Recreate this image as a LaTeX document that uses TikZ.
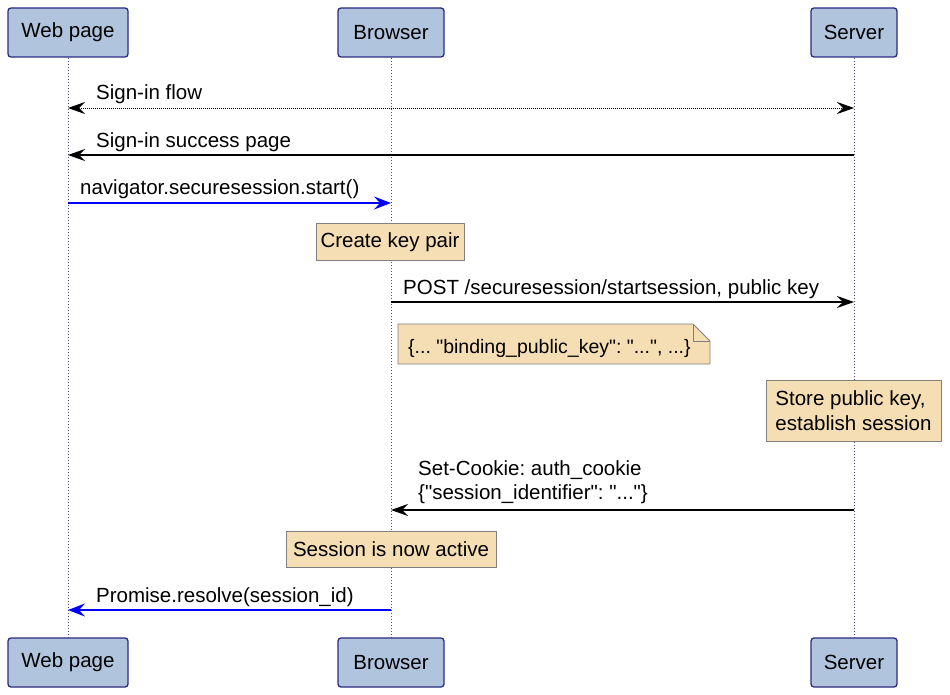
\documentclass[tikz,border=0pt]{standalone}
\usepackage{fontspec}
\setmainfont{Liberation Sans}[Ligatures=TeXOff]
\usetikzlibrary{arrows.meta}
\definecolor{partfill}{HTML}{B0C4DE}
\definecolor{partdraw}{HTML}{2B2B7E}
\definecolor{notefill}{HTML}{F5DEB3}
\definecolor{notedraw}{HTML}{808080}
\definecolor{lifecol}{HTML}{4B4B8C}
\definecolor{msgblue}{HTML}{0000FF}
\frenchspacing
\begin{document}
\begin{tikzpicture}[x=1pt,y=-1pt,
  font=\fontsize{20.5}{24.5}\selectfont\frenchspacing,
  part/.style={draw=partdraw, fill=partfill, line width=1.3pt, rounded corners=3pt,
    minimum height=49pt, inner sep=0pt},
  notebox/.style={draw=notedraw, fill=notefill, line width=0.9pt, inner sep=0pt},
  life/.style={draw=lifecol, line width=0.7pt, dash pattern=on 1.5pt off 1.5pt},
  msg/.style={-{Stealth[length=17pt,width=12pt,inset=6pt]}, line width=1.4pt},
  dmsg/.style={{Stealth[length=17pt,width=12pt,inset=6pt]}-{Stealth[length=17pt,width=12pt,inset=6pt]},
    line width=0.9pt, dash pattern=on 1pt off 1pt, draw=black},
  lbl/.style={anchor=base west, inner sep=0pt}]
\useasboundingbox (0,0) rectangle (950,695);

% participants
\node[part, minimum width=120pt] (webT) at (68,32.5) {Web page};
\node[part, minimum width=106pt] (brT) at (391,32.5) {Browser};
\node[part, minimum width=86pt] (srvT) at (854,32.5) {Server};
\node[part, minimum width=120pt] (webB) at (68,662.5) {Web page};
\node[part, minimum width=106pt] (brB) at (391,662.5) {Browser};
\node[part, minimum width=86pt] (srvB) at (854,662.5) {Server};

% lifelines
\draw[life] (webT) -- (webB);
\draw[life] (brT) -- (brB);
\draw[life] (srvT) -- (srvB);

% message rows
\coordinate (r1) at (0,108);
\coordinate (r2) at (0,155);
\coordinate (r3) at (0,203);
\coordinate (r5) at (0,302);
\coordinate (r8) at (0,510);
\coordinate (r10) at (0,610);

% 1 sign-in flow
\draw[dmsg] (webT |- r1) -- (srvT |- r1);
\node[lbl] (t1) at (96,100) {Sign-in flow};
% 2 success page
\draw[msg] (srvT |- r2) -- (webT |- r2);
\node[lbl] (t2) at (96,148) {Sign-in success page};
% 3 navigator
\draw[msg, draw=msgblue, -{Stealth[length=17pt,width=13pt,inset=6pt,fill=msgblue]}] (webT |- r3) -- (brT |- r3);
\node[lbl] (t3) at (80,195) {navigator.securesession.start()};
% 4 create key pair
\node[notebox, minimum width=148pt, minimum height=37pt] (n4) at (390,242) {Create key pair};
% 5 POST
\draw[msg] (brT |- r5) -- (srvT |- r5);
\node[lbl] (t5) at (403,294) {POST /securesession/startsession, public key};
% 6 folded note
\draw[notebox] (398,324) -- (693,324) -- (710,341) -- (710,364) -- (398,364) -- cycle;
\draw[draw=notedraw, line width=0.9pt] (693,324) -- (693,341) -- (710,341);
\node[lbl, font=\fontsize{19.5}{23}\selectfont] (t6) at (408,353) {\{... "binding\_public\_key": "...", ...\}};
% 7 store
\node[notebox, minimum width=175pt, minimum height=61pt, align=left] (n7) at (853.5,410.5)
  {Store public key,\\establish session};
% 8 set-cookie
\draw[msg] (srvT |- r8) -- (brT |- r8);
\node[lbl, align=left, anchor=north west] (t8) at (418,460)
  {Set-Cookie: auth\_cookie\\\{"session\_identifier": "..."\}};
% 9 session active
\node[notebox, minimum width=210pt, minimum height=36pt] (n9) at (391,549) {Session is now active};
% 10 promise
\draw[msg, draw=msgblue, -{Stealth[length=17pt,width=13pt,inset=6pt,fill=msgblue]}] (brT |- r10) -- (webT |- r10);
\node[lbl] (t10) at (96,602) {Promise.resolve(session\_id)};
\end{tikzpicture}
\end{document}
